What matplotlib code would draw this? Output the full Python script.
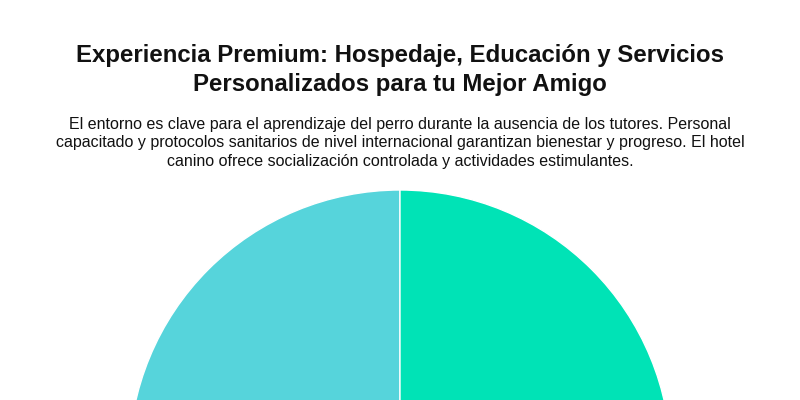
import matplotlib
matplotlib.use("Agg")
import matplotlib.pyplot as plt

categories = ["Hospedaje", "Educación"]
values = [50, 50]
colors = ["#56D4DB", "#00E3B6"]

title = "Experiencia Premium: Hospedaje, Educación y Servicios\nPersonalizados para tu Mejor Amigo"
subtitle = ("El entorno es clave para el aprendizaje del perro durante la ausencia de los tutores. Personal\n"
            "capacitado y protocolos sanitarios de nivel internacional garantizan bienestar y progreso. El hotel\n"
            "canino ofrece socialización controlada y actividades estimulantes.")

plt.rcParams['font.family'] = ['Liberation Sans', 'DejaVu Sans']

W, H = 800, 400
fig = plt.figure(figsize=(8, 4), dpi=100, facecolor="white")

cx, cy, r = 400, 461, 271
ax = fig.add_axes([(cx - r) / W, 1 - (cy + r) / H, 2 * r / W, 2 * r / H])
ax.pie(values, colors=colors, startangle=90, counterclock=True,
       wedgeprops=dict(edgecolor="white", linewidth=1), radius=1)
ax.set_xlim(-1, 1)
ax.set_ylim(-1, 1)
ax.axis("off")

fig.text(0.5, 1 - 70 / H, title, ha="center", va="center", fontsize=17.3,
         fontweight="bold", color="#111111", linespacing=1.29)
fig.text(0.5, 1 - 143 / H, subtitle, ha="center", va="center", fontsize=11.5,
         color="#111111", linespacing=1.27)

fig.savefig("out.png", dpi=100, facecolor="white")
